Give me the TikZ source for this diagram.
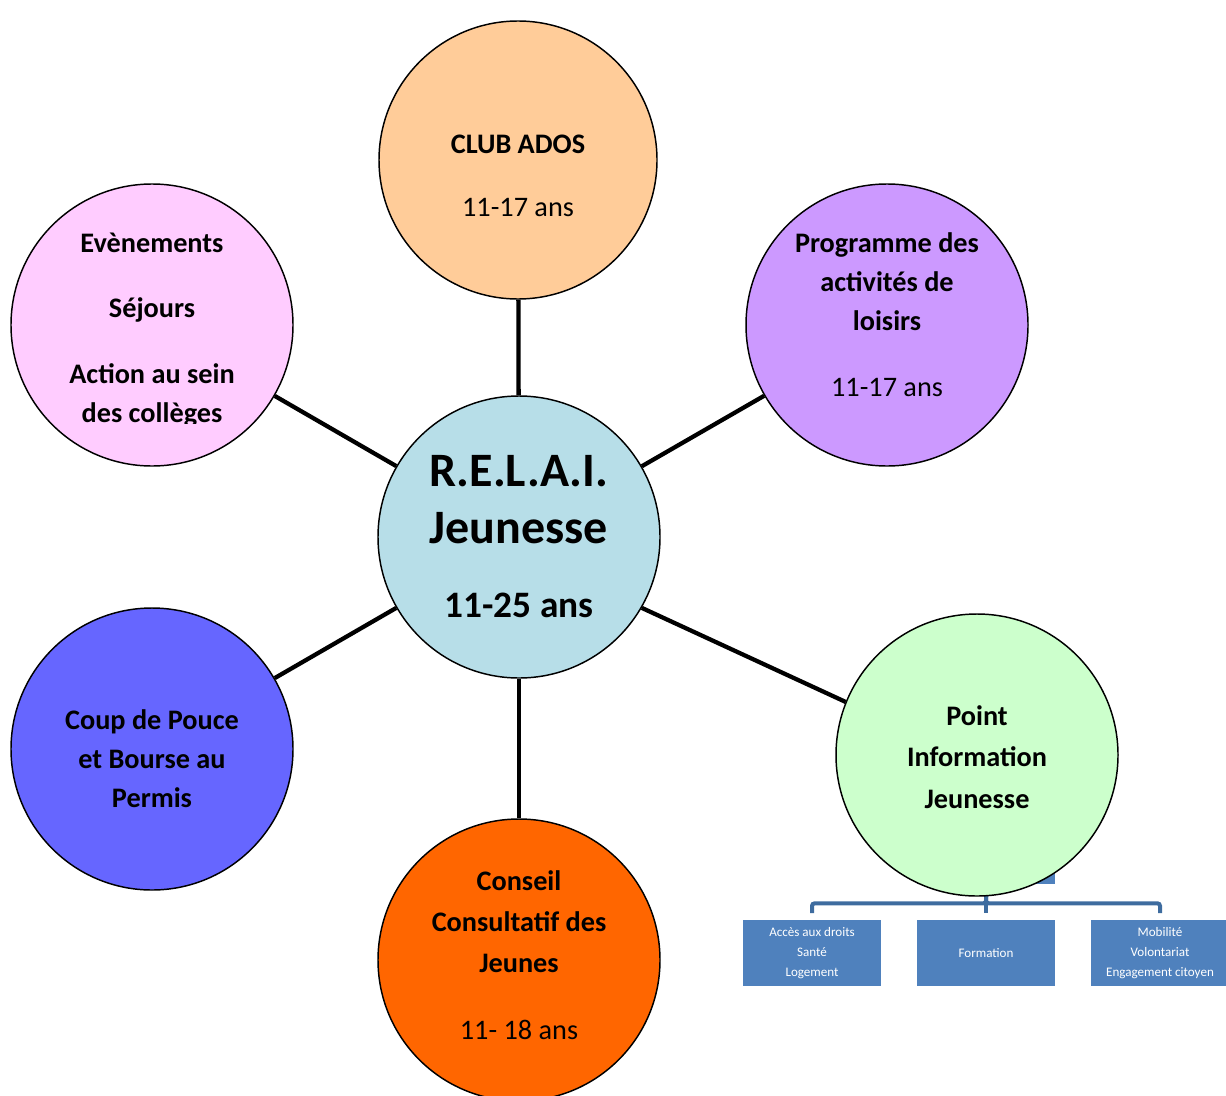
\documentclass[tikz,border=0pt]{standalone}
\usepackage{fontspec}
\setmainfont{Carlito}
\definecolor{crelai}{HTML}{B7DEE8}
\definecolor{cclub}{HTML}{FFCC99}
\definecolor{cevt}{HTML}{FFCCFF}
\definecolor{cprog}{HTML}{CC99FF}
\definecolor{ccoup}{HTML}{6666FF}
\definecolor{ccons}{HTML}{FF6600}
\definecolor{cpij}{HTML}{CCFFCC}
\definecolor{cbox}{HTML}{4F81BD}
\definecolor{ctree}{HTML}{3E6C9F}
\begin{document}
\begin{tikzpicture}[x=0.75pt,y=-0.75pt,
  bub/.style={circle, draw=black, line width=1.1pt, minimum size=211.5pt, inner sep=0pt},
  txt/.style={align=center, font=\bfseries\fontsize{21.2}{29.25}\selectfont, inner sep=0pt},
  txtw/.style={txt, font=\bfseries\fontsize{21.2}{30.9}\selectfont},
  leaf/.style={fill=cbox, text=white, align=center, minimum width=103.5pt, minimum height=49.5pt, inner sep=0pt, font=\fontsize{9.8}{15}\selectfont},
  tree/.style={draw=ctree, line width=3pt, rounded corners=2pt},
  spoke/.style={draw=black, line width=3.2pt}]
\useasboundingbox (0,0) rectangle (1226,1095);

% sub-tree of Point Information Jeunesse
\node[leaf, minimum height=48pt] (parent) at (986,852) {};
\node[leaf] (b1) at (812,953) {Accès aux droits\\Santé\\Logement};
\node[leaf] (b2) at (986,953) {Formation};
\node[leaf] (b3) at (1160,953) {Mobilité\\Volontariat\\Engagement citoyen};
\draw[tree, shorten >=5pt] (parent.south) -- ++(0,19) -| (b1.north);
\draw[tree, shorten >=5pt] (parent.south) -- ++(0,19) -| (b3.north);
\draw[tree, shorten >=5pt] (parent.south) -- (b2.north);

% circles
\node[bub, fill=crelai] (relai) at (519,537) {};
\node[bub, fill=cclub, minimum size=208.5pt] (club) at (518,160) {};
\node[bub, fill=cevt] (evt) at (152,325) {};
\node[bub, fill=cprog] (prog) at (887,325) {};
\node[bub, fill=ccoup] (coup) at (152,749) {};
\node[bub, fill=ccons] (cons) at (519,960) {};
\node[bub, fill=cpij] (pij) at (977,755) {};

% spokes
\draw[spoke] (relai) -- (club);
\draw[spoke] (relai) -- (evt);
\draw[spoke] (relai) -- (prog);
\draw[spoke] (relai) -- (coup);
\draw[spoke] (relai) -- (cons);
\draw[spoke] (relai.-30) -- (pij.158);

% texts
\node[txt, font=\bfseries\fontsize{36}{42.75}\selectfont] (relait) at (519,500) {R.E.L.A.I.\\Jeunesse};
\node[txt, font=\bfseries\fontsize{28}{33}\selectfont] (relaiage) at (519,605) {11-25 ans};
\node[txt] (clubt) at (518,176) {CLUB ADOS\\[18pt]\mdseries 11-17 ans};
\begin{scope}
  \clip (0,0) rectangle (300,423);
  \node[txt] (evtt) at (152,330) {Evènements\\[20pt]Séjours\\[20pt]Action au sein\\des collèges};
\end{scope}
\node[txt] (progt) at (887,315) {Programme des\\activités de\\loisirs\\[20pt]\mdseries 11-17 ans};
\node[txt] (coupt) at (152,759) {Coup de Pouce\\et Bourse au\\Permis};
\node[txtw] (const) at (519,955) {Conseil\\Consultatif des\\Jeunes\\[19pt]\mdseries 11- 18 ans};
\node[txtw] (pijt) at (977,757) {Point\\Information\\Jeunesse};
\end{tikzpicture}
\end{document}
